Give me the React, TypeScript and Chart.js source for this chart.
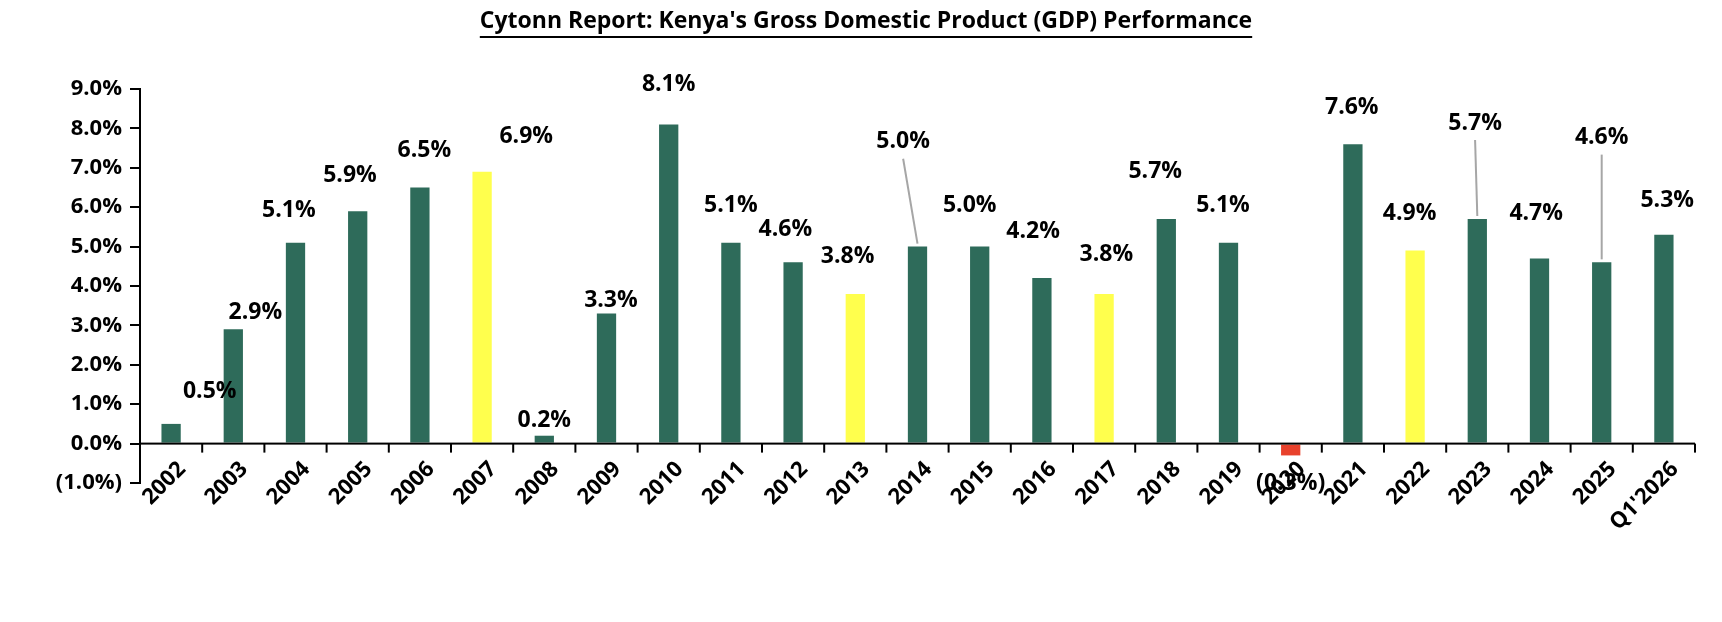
import React, { useEffect, useRef } from "react";
import { Chart, registerables } from "chart.js";
Chart.register(...registerables);

const categories = ["2002","2003","2004","2005","2006","2007","2008","2009","2010","2011","2012","2013","2014","2015","2016","2017","2018","2019","2020","2021","2022","2023","2024","2025","Q1'2026"];
const gdpGrowth = [0.5,2.9,5.1,5.9,6.5,6.9,0.2,3.3,8.1,5.1,4.6,3.8,5.0,5.0,4.2,3.8,5.7,5.1,-0.3,7.6,4.9,5.7,4.7,4.6,5.3];
const highlightYears = ["2007","2013","2017","2022"];
const yTicks = [-1,0,1,2,3,4,5,6,7,8,9];
// label offsets (px) relative to bar end, and leader-line flags
const labelDx = [35,20,-6,-7,4,40,0,4,0,0,-7,-7,-13,-9,-8,2,-10,-5,0,-1,-5,-2,-3,0,3];
const labelDy = [-29,-15,-29,-32,-34,-32,-14,-12,-36,-34,-30,-34,-95,-37,-42,-36,-43,-34,25,-33,-34,-87,-41,-113,-31];
const leader = [12,21,23];

const GREEN = "#2E6B5A", YELLOW = "#FFFF4D", RED = "#E8412C";
const FONT = "'Open Sans'";
const fmt = (v: number) => (v < 0 ? `(${Math.abs(v).toFixed(1)}%)` : `${v.toFixed(1)}%`);

export default function App() {
  const ref = useRef<HTMLCanvasElement>(null);
  useEffect(() => {
    const S = 1.104;
    const overlay = {
      id: "overlay",
      afterDatasetsDraw(chart: any) {
        const ctx = chart.ctx;
        const x = chart.scales.x, y = chart.scales.y;
        const ca = chart.chartArea;
        ctx.save();
        ctx.fillStyle = "#000";
        ctx.font = `bold 23px ${FONT}`;
        ctx.textAlign = "center";
        ctx.textBaseline = "middle";
        const title = "Cytonn Report: Kenya's Gross Domestic Product (GDP) Performance";
        const cx = 858;
        ctx.fillText(title, cx, 13);
        const tw = ctx.measureText(title).width;
        ctx.fillRect(cx - tw / 2, 28, tw, 2);
        const y0 = y.getPixelForValue(0);
        ctx.fillRect(ca.left, y0 - 1, ca.right - ca.left, 2);
        const step = (ca.right - ca.left) / categories.length;
        for (let i = 1; i <= categories.length; i++) {
          const tx = ca.left + step * i;
          ctx.fillRect(tx - 1, y0, 2, 9);
        }
        // x labels
        ctx.font = `bold 22px ${FONT}`;
        ctx.textAlign = "right";
        ctx.textBaseline = "middle";
        categories.forEach((c, i) => {
          const bx = x.getPixelForValue(i);
          ctx.save();
          ctx.translate(bx + 11, y0 + 22);
          ctx.rotate(-Math.PI / 4);
          ctx.fillText(c, 0, 0);
          ctx.restore();
        });
        // data labels
        ctx.textAlign = "center";
        ctx.font = `bold 23px ${FONT}`;
        gdpGrowth.forEach((v, i) => {
          const bx = x.getPixelForValue(i);
          const by = y.getPixelForValue(v);
          const lx = bx + labelDx[i] * S;
          const ly = by + labelDy[i] * S;
          ctx.fillStyle = "#000";
          ctx.fillText(fmt(v), lx, ly);
          if (leader.includes(i)) {
            ctx.strokeStyle = "#A6A6A6";
            ctx.lineWidth = 2;
            ctx.beginPath();
            ctx.moveTo(lx, ly + 17);
            ctx.lineTo(bx, by - 3);
            ctx.stroke();
          }
        });
        ctx.restore();
      },
    };
    const chart = new Chart(ref.current!, {
      type: "bar",
      data: {
        labels: categories,
        datasets: [{
          data: gdpGrowth,
          backgroundColor: categories.map((c, i) => gdpGrowth[i] < 0 ? RED : highlightYears.includes(c) ? YELLOW : GREEN),
          barPercentage: 0.31,
          categoryPercentage: 1,
        }],
      },
      options: {
        animation: false,
        responsive: false,
        layout: { padding: { left: 0, right: 19, top: 81, bottom: 0 } },
        plugins: { legend: { display: false }, tooltip: { enabled: false } },
        scales: {
          x: {
            grid: { display: false },
            border: { display: false },
            afterFit: (s: any) => { s.height = 131; },
            ticks: { display: false },
          },
          y: {
            min: -1, max: 9,
            afterBuildTicks: (s: any) => { s.ticks = yTicks.map((v) => ({ value: v })); },
            afterFit: (s: any) => { s.width = 132; },
            grid: { drawOnChartArea: false, color: "#000", lineWidth: 2, tickLength: 10 },
            border: { color: "#000", width: 2 },
            ticks: { color: "#000", font: { family: "Open Sans", weight: "bold", size: 22 }, padding: 8, callback: (v: any) => fmt(Number(v)) },
          },
        },
      },
      plugins: [overlay],
    });
    return () => chart.destroy();
  }, []);
  return (
    <div style={{ width: 1706, height: 606 }}>
      <canvas ref={ref} width={1706} height={606} style={{ width: 1706, height: 606 }} />
    </div>
  );
}
